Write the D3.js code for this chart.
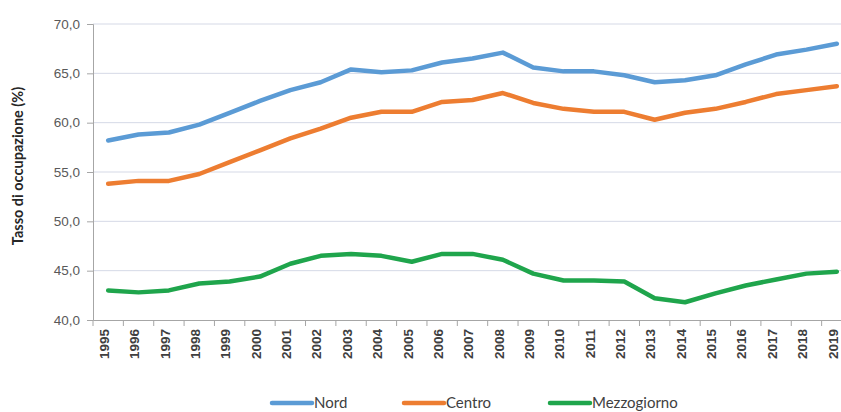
<!DOCTYPE html>
<html>
<head>
<meta charset="utf-8">
<script src="https://cdn.jsdelivr.net/npm/d3@7"></script>
<style>
  body { margin: 0; background: #fff; }
  svg { display: block; font-family: Lato, "Open Sans", sans-serif; }
</style>
</head>
<body>
<div id="chart"></div>
<script>
// data
const years = ['1995','1996','1997','1998','1999','2000','2001','2002','2003','2004','2005','2006','2007',
               '2008','2009','2010','2011','2012','2013','2014','2015','2016','2017','2018','2019'];
const nord = [58.2, 58.8, 59.0, 59.8, 61.0, 62.2, 63.3, 64.1, 65.4, 65.1, 65.3, 66.1, 66.5,
              67.1, 65.6, 65.2, 65.2, 64.8, 64.1, 64.3, 64.8, 65.9, 66.9, 67.4, 68.0];
const centro = [53.8, 54.1, 54.1, 54.8, 56.0, 57.2, 58.4, 59.4, 60.5, 61.1, 61.1, 62.1, 62.3,
                63.0, 62.0, 61.4, 61.1, 61.1, 60.3, 61.0, 61.4, 62.1, 62.9, 63.3, 63.7];
const mezzogiorno = [43.0, 42.8, 43.0, 43.7, 43.9, 44.4, 45.7, 46.5, 46.7, 46.5, 45.9, 46.7, 46.7,
                     46.1, 44.7, 44.0, 44.0, 43.9, 42.2, 41.8, 42.7, 43.5, 44.1, 44.7, 44.9];
const yTicks = [40, 45, 50, 55, 60, 65, 70];
const seriesNames = ['Nord', 'Centro', 'Mezzogiorno'];
const seriesColors = ['#5b9bd5', '#ed7d31', '#1fa54c'];

////////////////////////////////////////////////////////
const W = 841, H = 412;
const margin = {top: 24, left: 93, bottom: 92};
const plotRight = 852; // the reference is cropped on the right

const svg = d3.select('#chart').append('svg')
    .attr('width', W)
    .attr('height', H);

const x = d3.scaleBand()
    .domain(years)
    .range([margin.left, plotRight]);

const y = d3.scaleLinear()
    .domain([40, 70])
    .range([H - margin.bottom, margin.top]);

// gridlines
svg.append('g')
    .selectAll('line')
    .data(yTicks.filter(d => d > 40))
    .enter().append('line')
    .attr('x1', margin.left)
    .attr('x2', plotRight)
    .attr('y1', d => y(d))
    .attr('y2', d => y(d))
    .attr('stroke', '#d5d9e6')
    .attr('stroke-width', 1);

// y axis
const yAxis = svg.append('g')
    .attr('transform', 'translate(' + margin.left + ',0)')
    .call(d3.axisLeft(y).tickValues(yTicks).tickSize(6).tickPadding(7)
        .tickFormat(d => d3.format('.1f')(d).replace('.', ',')));
yAxis.select('.domain').attr('stroke', '#a6a6a6');
yAxis.selectAll('.tick line').attr('stroke', '#a6a6a6');
yAxis.selectAll('text')
    .attr('fill', '#595959')
    .style('font-size', '13.5px');

// x axis, ticks between categories
const xAxis = svg.append('g')
    .attr('transform', 'translate(0,' + y(40) + ')')
    .call(d3.axisBottom(x).tickSize(0).tickPadding(0));
xAxis.select('.domain').attr('stroke', '#a6a6a6');
xAxis.selectAll('.tick text')
    .attr('transform', 'rotate(-90)')
    .attr('x', -9)
    .attr('y', -4)
    .attr('dy', '0.35em')
    .style('text-anchor', 'end')
    .style('font-size', '13.5px')
    .style('font-weight', 'bold')
    .attr('fill', '#404040');
xAxis.append('g')
    .selectAll('line')
    .data(years)
    .enter().append('line')
    .attr('x1', d => x(d))
    .attr('x2', d => x(d))
    .attr('y1', 0)
    .attr('y2', 6)
    .attr('stroke', '#a6a6a6');

// y axis title
svg.append('text')
    .attr('transform', 'translate(23,166) rotate(-90)')
    .style('text-anchor', 'middle')
    .style('font-size', '14.5px')
    .style('font-weight', 'bold')
    .attr('fill', '#262626')
    .text('Tasso di occupazione (%)');

// lines
const line = d3.line()
    .x((d, i) => x(years[i]) + x.bandwidth() / 2)
    .y(d => y(d));

[nord, centro, mezzogiorno].forEach((vals, k) => {
    svg.append('path')
        .datum(vals)
        .attr('fill', 'none')
        .attr('stroke', seriesColors[k])
        .attr('stroke-width', 4.5)
        .attr('stroke-linejoin', 'round')
        .attr('stroke-linecap', 'round')
        .attr('d', line);
});

// legend
const legendX = [272, 404, 550];
const legend = svg.append('g')
    .attr('transform', 'translate(0,403)');
seriesNames.forEach((name, k) => {
    legend.append('line')
        .attr('x1', legendX[k])
        .attr('x2', legendX[k] + 40)
        .attr('stroke', seriesColors[k])
        .attr('stroke-width', 4.5)
        .attr('stroke-linecap', 'round');
    legend.append('text')
        .attr('x', legendX[k] + 42)
        .attr('dy', '0.35em')
        .style('font-size', '15px')
        .attr('fill', '#404040')
        .text(name);
});
</script>
</body>
</html>
